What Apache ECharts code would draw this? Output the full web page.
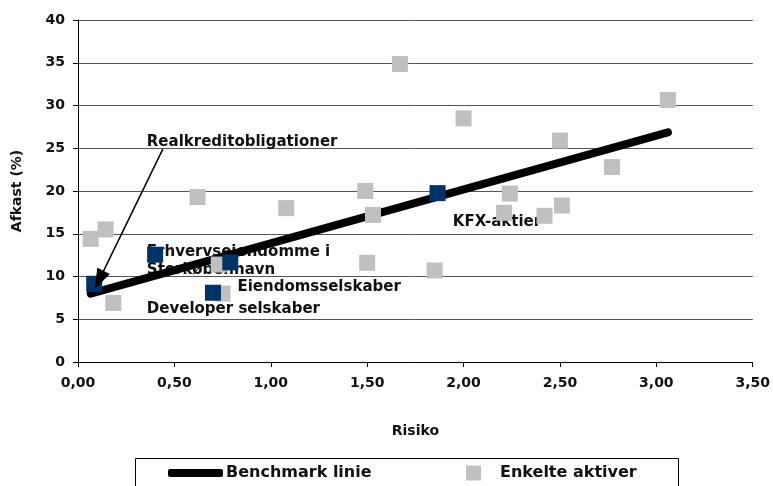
<!DOCTYPE html>
<html>
<head>
<meta charset="utf-8">
<script src="https://cdn.jsdelivr.net/npm/echarts@6/dist/echarts.min.js"></script>
<style>
  html, body { margin: 0; padding: 0; background: #fff; }
  #chart { width: 773px; height: 486px; }
</style>
</head>
<body>
<div id="chart"></div>
<script>
// Risiko (x) og afkast i % (y) for de enkelte aktiver
const enkelteAktiver = [
  [0.066, 14.4], [0.143, 15.5], [0.183, 6.9], [0.62, 19.3], [0.73, 11.4],
  [0.75, 8.0], [1.08, 18.0], [1.49, 20.0], [1.53, 17.2], [1.50, 11.6],
  [1.67, 34.85], [2.00, 28.5], [1.85, 10.7], [2.21, 17.45], [2.24, 19.7],
  [2.42, 17.1], [2.51, 18.3], [2.50, 25.9], [2.77, 22.8], [3.06, 30.65]
];

// Fremhævede aktivklasser
const aktivklasser = [
  [0.084, 9.15], [0.40, 12.55], [0.79, 11.65], [0.70, 8.1], [1.865, 19.75]
];

// Benchmark linie: start- og slutpunkt
const benchmark = [[0.066, 8.0], [3.06, 26.85]];

// Tekster ved aktivklasserne (venstre kant, lodret midte)
const etiketter = [
  { tekst: 'Realkreditobligationer', punkt: [0.357, 25.67] },
  { tekst: 'Erhvervsejendomme i\nStorkøbenhavn', punkt: [0.357, 11.85] },
  { tekst: 'Eiendomsselskaber', punkt: [0.827, 8.8] },
  { tekst: 'Developer selskaber', punkt: [0.357, 6.24] },
  { tekst: 'KFX-aktier', punkt: [1.944, 16.4] }
];

// Pil fra teksten ned til realkreditobligationer
const pilFra = [0.44, 24.9];
const pilTil = [0.11, 9.6];

const xTicks = { min: 0, max: 3.5, interval: 0.5 };
const yTicks = { min: 0, max: 40, interval: 5 };

const FONT = '"DejaVu Sans", sans-serif';
const TXT = '#111';

const chart = echarts.init(document.getElementById('chart'));

chart.setOption({
  animation: false,
  backgroundColor: '#fff',
  grid: { left: 78, right: 18, top: 20, bottom: 124, containLabel: false },
  xAxis: {
    type: 'value',
    min: xTicks.min, max: xTicks.max, interval: xTicks.interval,
    name: 'Risiko',
    nameLocation: 'middle',
    nameGap: 62,
    nameTextStyle: { fontFamily: FONT, fontWeight: 'bold', fontSize: 14, color: TXT },
    axisLine: { show: true, lineStyle: { color: '#000', width: 1 } },
    axisTick: { show: true, length: 5, lineStyle: { color: '#000' } },
    axisLabel: {
      margin: 14,
      fontFamily: FONT, fontWeight: 'bold', fontSize: 14, color: TXT,
      formatter: v => v.toFixed(2).replace('.', ',')
    },
    splitLine: { show: false }
  },
  yAxis: {
    type: 'value',
    min: yTicks.min, max: yTicks.max, interval: yTicks.interval,
    name: 'Afkast (%)',
    nameLocation: 'middle',
    nameGap: 54,
    nameTextStyle: { fontFamily: FONT, fontWeight: 'bold', fontSize: 14, color: TXT },
    axisLine: { show: true, lineStyle: { color: '#000', width: 1 } },
    axisTick: { show: true, length: 5, lineStyle: { color: '#000' } },
    axisLabel: { margin: 13, fontFamily: FONT, fontWeight: 'bold', fontSize: 14, color: TXT },
    splitLine: { show: true, lineStyle: { color: '#555', width: 1 } }
  },
  legend: [
    {
      data: [{ name: 'Benchmark linie', icon: 'roundRect' }],
      left: 168, top: 465,
      padding: 0,
      itemWidth: 55, itemHeight: 8,
      textStyle: { fontFamily: FONT, fontWeight: 'bold', fontSize: 16, color: TXT, padding: [0, 0, 0, -2] },
      selectedMode: false
    },
    {
      data: [{ name: 'Enkelte aktiver', icon: 'rect' }],
      left: 466, top: 465,
      padding: 0,
      itemWidth: 15, itemHeight: 15,
      textStyle: { fontFamily: FONT, fontWeight: 'bold', fontSize: 16, color: TXT, padding: [0, 0, 0, 14] },
      selectedMode: false
    }
  ],
  graphic: [
    {
      type: 'rect',
      shape: { x: 135.5, y: 458.5, width: 543, height: 40 },
      style: { fill: 'none', stroke: '#000', lineWidth: 1 },
      silent: true
    }
  ],
  series: [
    {
      name: 'tekster',
      type: 'scatter',
      z: 1,
      symbolSize: 0,
      silent: true,
      itemStyle: { opacity: 1 },
      data: etiketter.map(e => ({ value: e.punkt, tekst: e.tekst })),
      label: {
        show: true,
        position: 'right',
        distance: 0,
        align: 'left',
        verticalAlign: 'middle',
        fontFamily: FONT, fontWeight: 'bold', fontSize: 15, color: TXT,
        opacity: 1,
        lineHeight: 18,
        formatter: p => p.data.tekst
      },
      markLine: {
        silent: true,
        animation: false,
        symbol: ['none', 'triangle'],
        symbolSize: [14, 20],
        label: { show: false },
        lineStyle: { color: '#000', width: 1.5, type: 'solid', opacity: 1 },
        itemStyle: { color: '#000', opacity: 1 },
        data: [[{ coord: pilFra }, { coord: pilTil }]]
      }
    },
    {
      name: 'Benchmark linie',
      type: 'line',
      z: 2,
      data: benchmark,
      showSymbol: false,
      symbol: 'none',
      color: '#000',
      lineStyle: { color: '#000', width: 8, cap: 'round' },
      itemStyle: { color: '#000' }
    },
    {
      name: 'Enkelte aktiver',
      type: 'scatter',
      z: 3,
      symbol: 'rect',
      symbolSize: 16,
      itemStyle: { color: '#c0c0c0', opacity: 1 },
      data: enkelteAktiver
    },
    {
      name: 'Aktivklasser',
      type: 'scatter',
      z: 4,
      symbol: 'rect',
      symbolSize: 16,
      itemStyle: { color: '#003366', opacity: 1 },
      data: aktivklasser
    }
  ]
});
</script>
</body>
</html>
